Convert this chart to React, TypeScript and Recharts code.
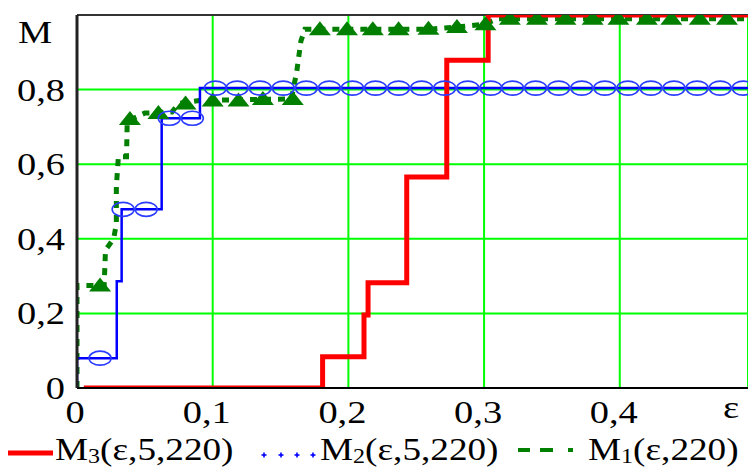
import React from 'react'
import {
  ComposedChart,
  Line,
  Scatter,
  XAxis,
  YAxis,
  CartesianGrid,
  ReferenceLine,
} from 'recharts'

// step traces (ε, M)
const m3Eps = [0.005, 0.181, 0.181, 0.2115, 0.2115, 0.2145, 0.2145, 0.243, 0.243, 0.2725, 0.2725, 0.303, 0.303, 0.4945]
const m3Vals = [0, 0, 0.084, 0.084, 0.196, 0.196, 0.282, 0.282, 0.566, 0.566, 0.879, 0.879, 1, 1]

const m2Eps = [0, 0, 0.0293, 0.0293, 0.0329, 0.0329, 0.0624, 0.0624, 0.0906, 0.0906, 0.4945]
const m2Vals = [0, 0.08, 0.08, 0.286, 0.286, 0.479, 0.479, 0.723, 0.723, 0.804, 0.804]

const m1Eps = [0, 0, 0.02, 0.021, 0.027, 0.029, 0.029, 0.0305, 0.0365, 0.037, 0.05, 0.07, 0.075, 0.09, 0.158, 0.162, 0.165, 0.168, 0.26, 0.28, 0.3, 0.31, 0.4945]
const m1Vals = [0, 0.275, 0.275, 0.37, 0.4, 0.44, 0.54, 0.62, 0.62, 0.715, 0.737, 0.74, 0.763, 0.771, 0.775, 0.85, 0.93, 0.962, 0.962, 0.968, 0.975, 0.99, 0.99]

// marker positions
const m2MarkEps = [0.017, 0.034, 0.051, 0.068, 0.085, 0.102, 0.118, 0.135, 0.152, 0.169, 0.186, 0.203, 0.22, 0.237, 0.254, 0.271, 0.288, 0.305, 0.321, 0.338, 0.355, 0.372, 0.389, 0.406, 0.423, 0.44, 0.457, 0.474, 0.491]
const m2MarkVals = [0.08, 0.479, 0.479, 0.723, 0.723, 0.804, 0.804, 0.804, 0.804, 0.804, 0.804, 0.804, 0.804, 0.804, 0.804, 0.804, 0.804, 0.804, 0.804, 0.804, 0.804, 0.804, 0.804, 0.804, 0.804, 0.804, 0.804, 0.804, 0.804]

const m1MarkEps = [0.017, 0.039, 0.06, 0.08, 0.1, 0.119, 0.137, 0.159, 0.179, 0.199, 0.218, 0.237, 0.259, 0.28, 0.301, 0.319, 0.339, 0.36, 0.38, 0.399, 0.42, 0.438, 0.459, 0.479]
const m1MarkVals = [0.275, 0.721, 0.737, 0.763, 0.771, 0.771, 0.775, 0.775, 0.962, 0.962, 0.962, 0.962, 0.963, 0.968, 0.975, 0.99, 0.99, 0.99, 0.99, 0.99, 0.99, 0.99, 0.99, 0.99]

const xTicks = [0, 0.1, 0.2, 0.3, 0.4]
const yTicks = [0, 0.2, 0.4, 0.6, 0.8]

const toPoints = (xs: number[], ys: number[]) => xs.map((x, i) => ({ x, y: ys[i] }))

const SERIF = '"Liberation Serif", "Times New Roman", serif'
const STRETCH = 1.2
const fmt = (v: number) => String(v).replace('.', ',')

const XTick = ({ x, payload }: any) => {
  const dx = payload.value === 0 ? -2 : -6
  return (
    <text
      transform={`translate(${x + dx},423) scale(${STRETCH},1)`}
      textAnchor="middle"
      fontFamily={SERIF}
      fontSize={32}
      fill="#000"
    >
      {fmt(payload.value)}
    </text>
  )
}

const YTick = ({ y, payload }: any) => (
  <text
    transform={`translate(65,${y + 11}) scale(${STRETCH},1)`}
    textAnchor="end"
    fontFamily={SERIF}
    fontSize={32}
    fill="#000"
  >
    {fmt(payload.value)}
  </text>
)

const EllipseMark = (props: any) => (
  <ellipse cx={props.cx} cy={props.cy} rx={11} ry={7} fill="none" stroke="#2a3cff" strokeWidth={1.6} />
)

const TriangleMark = (props: any) => {
  const { cx, cy } = props
  return (
    <polygon
      points={`${cx},${cy - 8} ${cx + 11},${cy + 6} ${cx - 11},${cy + 6}`}
      fill="#007f00"
    />
  )
}

export default function App() {
  return (
    <div style={{ position: 'absolute', left: 0, top: 0, width: 748, height: 468, background: '#fff' }}>
      <ComposedChart width={748} height={468} margin={{ top: 15, right: 0, bottom: 0, left: 0 }}>
        <CartesianGrid stroke="#00ff00" strokeWidth={2} />
        <XAxis
          type="number"
          dataKey="x"
          domain={[0, 0.4945]}
          ticks={xTicks}
          tick={<XTick />}
          tickLine={false}
          axisLine={{ stroke: '#000', strokeWidth: 2 }}
          height={80}
          allowDataOverflow
        />
        <YAxis
          type="number"
          dataKey="y"
          domain={[0, 1]}
          ticks={yTicks}
          tick={<YTick />}
          tickLine={false}
          axisLine={{ stroke: '#222', strokeWidth: 3 }}
          width={77}
          allowDataOverflow
        />
        <ReferenceLine y={1} stroke="#333" strokeWidth={2} />
        <Line
          data={toPoints(m1Eps, m1Vals)}
          dataKey="y"
          type="linear"
          stroke="#007f00"
          strokeWidth={5}
          strokeDasharray="7 7"
          dot={false}
          isAnimationActive={false}
        />
        <Scatter data={toPoints(m1MarkEps, m1MarkVals)} shape={TriangleMark} isAnimationActive={false} />
        <Line
          data={toPoints(m2Eps, m2Vals)}
          dataKey="y"
          type="linear"
          stroke="#0000ff"
          strokeWidth={2.5}
          dot={false}
          isAnimationActive={false}
        />
        <Scatter data={toPoints(m2MarkEps, m2MarkVals)} shape={EllipseMark} isAnimationActive={false} />
        <Line
          data={toPoints(m3Eps, m3Vals)}
          dataKey="y"
          type="linear"
          stroke="#ff0000"
          strokeWidth={5}
          dot={false}
          isAnimationActive={false}
        />
      </ComposedChart>
      <svg
        width={748}
        height={468}
        style={{ position: 'absolute', left: 0, top: 0, pointerEvents: 'none' }}
        fontFamily={SERIF}
        fontSize={31}
      >
        <text fontSize={32} transform={`translate(18,43) scale(${STRETCH},1)`}>M</text>
        <text fontSize={32} transform={`translate(723,418) scale(${STRETCH},1)`}>ε</text>

        <line x1={8} y1={453} x2={53} y2={453} stroke="#ff0000" strokeWidth={5} />
        <text transform={`translate(55,460) scale(${STRETCH},1)`}>
          M<tspan fontSize={20} dy={3}>3</tspan>
          <tspan dy={-3}>(ε,5,220)</tspan>
        </text>

        {[264, 281, 297, 313].map((px) => (
          <g key={px} stroke="#0000ff" strokeWidth={1.6}>
            <line x1={px - 2.5} y1={455} x2={px + 2.5} y2={455} />
            <line x1={px} y1={452.5} x2={px} y2={457.5} />
          </g>
        ))}
        <text transform={`translate(320,460) scale(${STRETCH},1)`}>
          M<tspan fontSize={20} dy={3}>2</tspan>
          <tspan dy={-3}>(ε,5,220)</tspan>
        </text>

        <g stroke="#008000" strokeWidth={4}>
          <line x1={518} y1={450} x2={530} y2={450} />
          <line x1={540} y1={450} x2={553} y2={450} />
          <line x1={568} y1={450} x2={573} y2={450} />
        </g>
        <text transform={`translate(588,460) scale(${STRETCH},1)`}>
          M<tspan fontSize={20} dy={3}>1</tspan>
          <tspan dy={-3}>(ε,220)</tspan>
        </text>
      </svg>
    </div>
  )
}
